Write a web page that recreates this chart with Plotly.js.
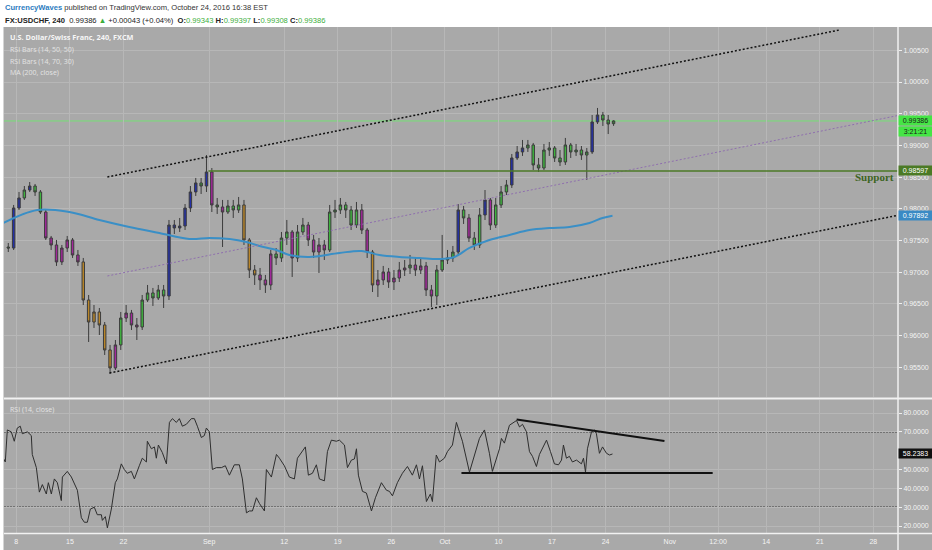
<!DOCTYPE html>
<html>
<head>
<meta charset="utf-8">
<script src="https://cdn.plot.ly/plotly-3.0.1.min.js"></script>
<style>
    body { margin: 0; background: #ffffff; }
    #chart { width: 932px; height: 550px; }
</style>
</head>
<body>
<div id="chart"></div>
<script>
// x = trading day counted from Mon Aug 8 2016 (weekends skipped), 12h bars
let barOpen = [
    0.97398, 0.97382, 0.98013, 0.98171, 0.98297, 0.98360, 0.98266, 0.97950, 0.97540, 0.97430,
    0.97162, 0.97382, 0.97509, 0.97272, 0.97162, 0.96562, 0.96215, 0.96373, 0.96168, 0.95774,
    0.95490, 0.95853, 0.96278, 0.96357, 0.96168, 0.96136, 0.96562, 0.96673, 0.96594, 0.96720,
    0.96625, 0.97745, 0.97698, 0.97729, 0.98013, 0.98266, 0.98408, 0.98360, 0.98581, 0.98061,
    0.98029, 0.97950, 0.98045, 0.97982, 0.98061, 0.97509, 0.97035, 0.96957, 0.96878, 0.96799,
    0.97288, 0.97225, 0.97540, 0.97635, 0.97225, 0.97635, 0.97745, 0.97509, 0.97319, 0.97430,
    0.97351, 0.97950, 0.97982, 0.98061, 0.97982, 0.97745, 0.97982, 0.97666, 0.97319, 0.96799,
    0.96878, 0.97004, 0.96846, 0.96909, 0.97035, 0.97067, 0.97114, 0.97035, 0.97099, 0.96720,
    0.96625, 0.97035, 0.97193, 0.97225, 0.97319, 0.97982, 0.97856, 0.97540, 0.97430, 0.97903,
    0.98140, 0.97745, 0.98061, 0.98266, 0.98376, 0.98802, 0.98897, 0.98960, 0.99007, 0.98692,
    0.98644, 0.98928, 0.98960, 0.98802, 0.98739, 0.99007, 0.98897, 0.98928, 0.98849, 0.98897,
    0.99370, 0.99480, 0.99401, 0.99343
];
let barHigh = [
    0.97461, 0.98061, 0.98266, 0.98360, 0.98423, 0.98392, 0.98297, 0.97982, 0.97572, 0.97509,
    0.97430, 0.97572, 0.97540, 0.97351, 0.97225, 0.96641, 0.96483, 0.96436, 0.96215, 0.95853,
    0.95931, 0.96373, 0.96483, 0.96405, 0.96278, 0.96641, 0.96799, 0.96752, 0.96799, 0.96799,
    0.97824, 0.97824, 0.97856, 0.98076, 0.98360, 0.98487, 0.98487, 0.98849, 0.98644, 0.98171,
    0.98140, 0.98140, 0.98140, 0.98187, 0.98140, 0.97540, 0.97114, 0.97067, 0.96957, 0.97351,
    0.97382, 0.97635, 0.97824, 0.97666, 0.97745, 0.97856, 0.97793, 0.97588, 0.97540, 0.97509,
    0.98061, 0.98140, 0.98171, 0.98108, 0.98045, 0.98108, 0.98076, 0.97698, 0.97351, 0.97035,
    0.97099, 0.97067, 0.97035, 0.97162, 0.97193, 0.97272, 0.97225, 0.97225, 0.97162, 0.96799,
    0.97114, 0.97588, 0.97351, 0.97414, 0.98076, 0.98045, 0.97919, 0.97635, 0.98013, 0.98297,
    0.98171, 0.98171, 0.98360, 0.98455, 0.98865, 0.98991, 0.99086, 0.99086, 0.99039, 0.98802,
    0.99023, 0.99054, 0.98991, 0.98928, 0.99118, 0.99039, 0.99023, 0.98991, 0.98960, 0.99480,
    0.99591, 0.99528, 0.99480, 0.99397
];
let barLow = [
    0.97319, 0.97351, 0.97982, 0.98140, 0.98266, 0.98203, 0.97919, 0.97509, 0.97351, 0.97099,
    0.97114, 0.97319, 0.97225, 0.97099, 0.96483, 0.95900, 0.96121, 0.96010, 0.95695, 0.95395,
    0.95458, 0.95774, 0.96215, 0.96089, 0.95931, 0.96089, 0.96531, 0.96468, 0.96562, 0.96436,
    0.96562, 0.97603, 0.97635, 0.97666, 0.97950, 0.98203, 0.98234, 0.98266, 0.97950, 0.97919,
    0.97398, 0.97919, 0.97856, 0.97935, 0.97430, 0.96909, 0.96799, 0.96720, 0.96673, 0.96720,
    0.97114, 0.97162, 0.97430, 0.96925, 0.97162, 0.97588, 0.97414, 0.97225, 0.96988, 0.97193,
    0.97319, 0.97856, 0.97919, 0.97856, 0.97666, 0.97698, 0.97603, 0.97225, 0.96688, 0.96610,
    0.96799, 0.96752, 0.96720, 0.96846, 0.96941, 0.96972, 0.96941, 0.96972, 0.96625, 0.96452,
    0.96483, 0.97004, 0.97130, 0.97162, 0.97272, 0.97761, 0.97477, 0.97351, 0.97382, 0.97824,
    0.97666, 0.97698, 0.98013, 0.98218, 0.98329, 0.98771, 0.98834, 0.98897, 0.98613, 0.98581,
    0.98613, 0.98834, 0.98739, 0.98676, 0.98692, 0.98802, 0.98834, 0.98771, 0.98455, 0.98865,
    0.99338, 0.99307, 0.99180, 0.99308
];
let barClose = [
    0.97382, 0.98013, 0.98171, 0.98297, 0.98360, 0.98266, 0.97950, 0.97540, 0.97430, 0.97162,
    0.97382, 0.97509, 0.97272, 0.97162, 0.96562, 0.96215, 0.96373, 0.96168, 0.95774, 0.95490,
    0.95853, 0.96278, 0.96357, 0.96168, 0.96136, 0.96562, 0.96673, 0.96594, 0.96720, 0.96625,
    0.97745, 0.97698, 0.97729, 0.98013, 0.98266, 0.98408, 0.98360, 0.98581, 0.98061, 0.98029,
    0.97950, 0.98045, 0.97982, 0.98061, 0.97509, 0.97035, 0.96957, 0.96878, 0.96799, 0.97288,
    0.97225, 0.97540, 0.97635, 0.97225, 0.97635, 0.97745, 0.97509, 0.97319, 0.97430, 0.97351,
    0.97950, 0.97982, 0.98061, 0.97982, 0.97745, 0.97982, 0.97666, 0.97319, 0.96799, 0.96878,
    0.97004, 0.96846, 0.96909, 0.97035, 0.97067, 0.97114, 0.97035, 0.97099, 0.96720, 0.96625,
    0.97035, 0.97193, 0.97225, 0.97319, 0.97982, 0.97856, 0.97540, 0.97430, 0.97903, 0.98140,
    0.97745, 0.98061, 0.98266, 0.98376, 0.98802, 0.98897, 0.98960, 0.99007, 0.98692, 0.98644,
    0.98928, 0.98960, 0.98802, 0.98739, 0.99007, 0.98897, 0.98928, 0.98849, 0.98897, 0.99370,
    0.99480, 0.99401, 0.99338, 0.99386
];
// RSI Bars colouring: B strong, G above 50, P below 50, O weak
let barClass = [
    'G', 'B', 'B', 'G', 'B', 'G', 'G', 'P', 'P', 'P',
    'P', 'P', 'P', 'P', 'O', 'O', 'O', 'O', 'O', 'O',
    'P', 'G', 'P', 'P', 'P', 'G', 'G', 'G', 'G', 'G',
    'B', 'B', 'B', 'B', 'B', 'B', 'G', 'B', 'P', 'G',
    'P', 'G', 'G', 'G', 'O', 'O', 'O', 'P', 'P', 'P',
    'G', 'G', 'G', 'P', 'G', 'G', 'P', 'P', 'P', 'P',
    'G', 'G', 'G', 'G', 'G', 'G', 'P', 'P', 'O', 'P',
    'P', 'P', 'P', 'P', 'P', 'G', 'P', 'P', 'P', 'P',
    'G', 'G', 'G', 'G', 'B', 'G', 'P', 'G', 'G', 'B',
    'P', 'G', 'G', 'G', 'B', 'B', 'B', 'G', 'G', 'G',
    'G', 'G', 'G', 'G', 'G', 'G', 'G', 'G', 'G', 'B',
    'B', 'G', 'G', 'G'
];

let maDay = [-1.21, 1.96, 4.95, 7.75, 10.55, 13.35, 16.15, 18.02, 19.89, 21.48,
    22.69, 24.28, 25.49, 27.36, 30.16, 32.21, 33.89, 35.76, 37.63, 39.50,
    40.90, 42.30, 44.16, 46.03, 47.90, 49.77, 51.63, 53.50, 54.72, 55.65];
let maVal = [0.97777, 0.97982, 0.97950, 0.97824, 0.97714, 0.97619, 0.97524, 0.97540, 0.97524, 0.97477,
    0.97414, 0.97351, 0.97272, 0.97241, 0.97304, 0.97335, 0.97272, 0.97241, 0.97225, 0.97209,
    0.97241, 0.97383, 0.97509, 0.97588, 0.97666, 0.97698, 0.97714, 0.97777, 0.97856, 0.97892];

let rsiDay = [
    -1.21, -1.03, -0.84, -0.47, -0.19, 0.09, 0.37, 0.56, 1.03, 1.40,
    1.49, 1.87, 2.15, 2.43, 2.80, 2.99, 3.27, 3.55, 3.83, 4.20,
    4.30, 4.76, 5.14, 5.42, 5.70, 6.07, 6.35, 6.63, 6.91, 7.28,
    7.56, 7.94, 8.03, 8.31, 8.50, 8.87, 9.24, 9.43, 9.80, 10.08,
    10.36, 10.74, 11.02, 11.48, 11.76, 12.14, 12.23, 12.61, 12.89, 13.07,
    13.26, 13.63, 14.01, 14.29, 14.57, 14.94, 15.22, 15.50, 15.87, 16.34,
    16.62, 16.90, 17.27, 17.55, 17.74, 18.02, 18.30, 18.67, 19.14, 19.51,
    19.89, 20.35, 20.82, 21.10, 21.48, 21.76, 22.04, 22.41, 22.69, 23.16,
    23.34, 23.81, 24.28, 24.56, 25.02, 25.49, 25.96, 26.24, 26.70, 26.98,
    27.26, 27.64, 28.01, 28.29, 28.76, 29.04, 29.41, 29.88, 30.16, 30.63,
    30.91, 31.28, 31.56, 31.75, 31.93, 32.31, 32.68, 33.15, 33.52, 34.08,
    34.55, 34.83, 35.11, 35.57, 36.04, 36.51, 36.97, 37.35, 37.63, 37.91,
    38.28, 38.65, 38.84, 39.20, 39.50, 39.96, 40.24, 40.71, 41.08, 41.36,
    41.64, 42.30, 42.58, 43.23, 43.70, 44.16, 44.44, 45.10, 45.28, 45.56,
    46.03, 46.69, 46.97, 47.25, 47.62, 47.90, 48.18, 48.55, 48.83, 49.49,
    49.86, 50.23, 50.61, 50.89, 51.07, 51.35, 51.63, 51.91, 52.29, 52.75,
    52.94, 53.13, 53.31, 53.69, 53.97, 54.15, 54.43, 54.72, 55.09, 55.37,
    55.65
];
let rsiVal = [
    56, 54, 71, 70, 65, 72, 73, 69, 70, 68,
    58, 51, 38, 42, 37, 43, 37, 45, 43, 33.5,
    46, 49, 46, 42, 39, 24.4, 22, 22, 29, 30,
    26, 26, 23, 25, 19, 29, 43, 45, 53, 50,
    48, 49, 45, 52, 56, 54, 65, 61, 62, 56,
    63, 59, 53, 75, 77, 75, 77, 73, 74, 77,
    77, 73, 67, 68, 72, 70, 50, 51, 51, 52,
    47, 52.5, 52.5, 45, 27, 28, 28, 35, 32, 28,
    50, 46, 58, 56, 52, 46, 45, 56, 60, 62,
    47, 48, 52.5, 45, 44, 59.5, 65.6, 65, 65.6, 63,
    51, 55, 55.6, 61, 47, 38.4, 37.5, 28, 35, 43,
    39, 38.4, 36, 43, 48, 51.6, 47, 52.5, 45, 52,
    33, 37, 33, 57.7, 54, 56, 59.5, 63, 75, 70,
    65, 48.6, 54, 66.5, 71, 58.6, 49, 61, 66.5, 64,
    73.5, 76, 72.6, 74, 70, 59.5, 57, 51.6, 58, 65.6,
    59.5, 53, 52.5, 55, 63, 56, 57, 54, 55, 53,
    56, 48.6, 61, 70, 71, 69, 58.6, 62, 58.6, 57.7,
    58.24
];

// drawn channel and trend lines (end points)
let chanTopDay = [8.5, 76.84], chanTopVal = [0.98502, 1.00821];
let chanLowDay = [8.7, 82.26], chanLowVal = [0.95411, 0.97897];
let chanMidDay = [8.5, 82.26], chanMidVal = [0.96941, 0.99471];
let supportDay = [17.93, 82.3], supportVal = [0.98597, 0.98597];
let rsiTopDay = [46.7, 60.5], rsiTopVal = [76.5, 65.1];
let rsiLowDay = [41.55, 65.0], rsiLowVal = [48.1, 48.1];

let lastPrice = 0.99386, maLast = 0.97892, rsiLast = 58.2383;

let xTickDay = [0, 5, 10, 18, 25, 30, 35, 40, 45, 50, 55, 61, 65.5, 70, 75, 80];
let xTickText = ['8', '15', '22', 'Sep', '12', '19', '26', 'Oct', '10', '17', '24', 'Nov', '12:00', '14', '21', '28'];
let rsiTicks = [20, 30, 40, 50, 70, 80];

let W = 932, H = 550;
function fx(px) { return px / W; }
function fy(py) { return 1 - py / H; }

let barDay = barClose.map((c, i) => -0.75 + i * 0.5);

let classColours = {G: '#3fb33f', B: '#2430a6', P: '#a3289c', O: '#b9862a'};
let data = [];

Object.keys(classColours).forEach(k => {
    let idx = [];
    barClass.forEach((c, i) => { if (c === k) idx.push(i); });
    let col = classColours[k];
    data.push({
        type: 'candlestick',
        xaxis: 'x', yaxis: 'y',
        x: idx.map(i => barDay[i]),
        open: idx.map(i => barOpen[i]),
        high: idx.map(i => barHigh[i]),
        low: idx.map(i => barLow[i]),
        close: idx.map(i => barClose[i]),
        increasing: {line: {color: '#3c3c3c', width: 1}, fillcolor: col},
        decreasing: {line: {color: '#3c3c3c', width: 1}, fillcolor: col},
        whiskerwidth: 0,
        hoverinfo: 'skip',
        showlegend: false
    });
});

data.push({
    type: 'scatter', mode: 'lines', xaxis: 'x', yaxis: 'y',
    x: maDay, y: maVal,
    line: {color: '#3a8fc6', width: 2, shape: 'spline'},
    hoverinfo: 'skip'
});

function dotted(xs, ys, colour, w) {
    return {
        type: 'scatter', mode: 'lines', xaxis: 'x', yaxis: 'y',
        x: xs, y: ys,
        line: {color: colour, width: w, dash: '2px,2px'},
        hoverinfo: 'skip'
    };
}
data.push(dotted(chanTopDay, chanTopVal, '#111111', 1.5));
data.push(dotted(chanLowDay, chanLowVal, '#111111', 1.5));
data.push(dotted(chanMidDay, chanMidVal, '#8f6fae', 1));

data.push({
    type: 'scatter', mode: 'lines', xaxis: 'x', yaxis: 'y',
    x: supportDay, y: supportVal,
    line: {color: '#4c7a27', width: 1.6},
    hoverinfo: 'skip'
});

data.push({
    type: 'scatter', mode: 'lines', xaxis: 'x', yaxis: 'y2',
    x: rsiDay, y: rsiVal,
    line: {color: '#2e2e2e', width: 1},
    hoverinfo: 'skip'
});
data.push({
    type: 'scatter', mode: 'lines', xaxis: 'x', yaxis: 'y2',
    x: rsiTopDay, y: rsiTopVal,
    line: {color: '#111111', width: 2},
    hoverinfo: 'skip'
});
data.push({
    type: 'scatter', mode: 'lines', xaxis: 'x', yaxis: 'y2',
    x: rsiLowDay, y: rsiLowVal,
    line: {color: '#111111', width: 2},
    hoverinfo: 'skip'
});

let tickFont = {family: 'Liberation Sans, Arial, sans-serif', size: 7, color: '#f4f4f4'};
let grid = '#b7b7b7';

let green = '#3cae3c';
let header2 = '<b>FX:USDCHF, 240</b>  0.99386 <span style="color:' + green + '">▲</span> +0.00043 (+0.04%)  ' +
    '<b>O:</b><span style="color:' + green + '">0.99343</span> ' +
    '<b>H:</b><span style="color:' + green + '">0.99397</span> ' +
    '<b>L:</b><span style="color:' + green + '">0.99308</span> ' +
    '<b>C:</b><span style="color:' + green + '">0.99386</span>';

function paneText(txt, py, bold) {
    return {
        xref: 'paper', yref: 'paper', x: fx(8), y: fy(py),
        xanchor: 'left', yanchor: 'middle', showarrow: false,
        text: bold ? '<b>' + txt + '</b>' : txt,
        font: {family: 'Open Sans, sans-serif', size: bold ? 7.3 : 7, color: bold ? '#f6f6f6' : '#e4e4e4'}
    };
}

function priceBox(txt, yref, y, bg, fg, shift) {
    return {
        xref: 'paper', yref: yref, x: fx(898), y: y,
        xanchor: 'left', yanchor: 'middle', yshift: shift || 0,
        showarrow: false, text: txt, width: 31, align: 'center',
        bgcolor: bg, borderpad: 1,
        font: {family: 'Liberation Sans, Arial, sans-serif', size: 7, color: fg}
    };
}

let layout = {
    width: W, height: H,
    margin: {l: 0, r: 0, t: 0, b: 0},
    paper_bgcolor: '#a9a9a9',
    plot_bgcolor: 'rgba(0,0,0,0)',
    showlegend: false,
    boxgap: 0.35,
    xaxis: {
        domain: [fx(4), fx(898)],
        range: [-1.15, 82.3],
        anchor: 'y2',
        tickmode: 'array', tickvals: xTickDay, ticktext: xTickText,
        showgrid: true, gridcolor: grid, gridwidth: 1,
        zeroline: false, showline: false, ticks: '',
        ticklabelstandoff: 3,
        tickfont: tickFont,
        rangeslider: {visible: false},
        fixedrange: true
    },
    yaxis: {
        domain: [fy(397), fy(27)],
        range: [0.95032, 1.00868],
        side: 'right', anchor: 'x',
        tick0: 0.955, dtick: 0.005, tickformat: '.5f',
        showgrid: true, gridcolor: grid, zeroline: false, showline: false,
        ticks: 'outside', ticklen: 3, tickcolor: '#eeeeee',
        tickfont: tickFont, fixedrange: true
    },
    yaxis2: {
        domain: [fy(533), fy(400)],
        range: [16.3, 86.9],
        side: 'right', anchor: 'x',
        tickmode: 'array', tickvals: rsiTicks, tickformat: '.4f',
        showgrid: true, gridcolor: grid, zeroline: false, showline: false,
        ticks: 'outside', ticklen: 3, tickcolor: '#eeeeee',
        tickfont: tickFont, fixedrange: true
    },
    shapes: [
        {type: 'rect', xref: 'paper', yref: 'paper', x0: 0, x1: 1, y0: fy(27), y1: 1,
            fillcolor: '#ffffff', line: {width: 0}, layer: 'below'},
        {type: 'rect', xref: 'paper', yref: 'paper', x0: 0, x1: fx(3.5), y0: 0, y1: 1,
            fillcolor: '#ffffff', line: {width: 0}, layer: 'below'},
        {type: 'line', xref: 'paper', yref: 'y', x0: fx(4), x1: fx(898), y0: lastPrice, y1: lastPrice,
            line: {color: '#74e074', width: 1}, layer: 'below'},
        {type: 'line', xref: 'paper', yref: 'y2', x0: fx(4), x1: fx(898), y0: 70, y1: 70,
            line: {color: '#3e3e3e', width: 1.5, dash: '2px,1px'}, layer: 'below'},
        {type: 'line', xref: 'paper', yref: 'y2', x0: fx(4), x1: fx(898), y0: 30, y1: 30,
            line: {color: '#3e3e3e', width: 1.5, dash: '2px,1px'}, layer: 'below'},
        {type: 'line', xref: 'paper', yref: 'paper', x0: fx(898), x1: fx(898), y0: 0, y1: fy(27),
            line: {color: '#f2f2f2', width: 1.5}},
        {type: 'line', xref: 'paper', yref: 'paper', x0: fx(4), x1: 1, y0: fy(398.5), y1: fy(398.5),
            line: {color: '#f2f2f2', width: 2}},
        {type: 'line', xref: 'paper', yref: 'paper', x0: fx(4), x1: 1, y0: fy(533.5), y1: fy(533.5),
            line: {color: '#f2f2f2', width: 1.5}}
    ],
    annotations: [
        {xref: 'paper', yref: 'paper', x: fx(3), y: fy(8), xanchor: 'left', yanchor: 'middle',
            showarrow: false,
            text: '<span style="color:#2c7cc0"><b>CurrencyWaves</b></span> published on TradingView.com, October 24, 2016 16:38 EST',
            font: {family: 'Liberation Sans, Arial, sans-serif', size: 7.6, color: '#333333'}},
        {xref: 'paper', yref: 'paper', x: fx(3), y: fy(20), xanchor: 'left', yanchor: 'middle',
            showarrow: false, text: header2,
            font: {family: 'Liberation Sans, Arial, sans-serif', size: 7.6, color: '#222222'}},
        paneText('U.S. Dollar/Swiss Franc, 240, FXCM', 37, true),
        paneText('RSI Bars (14, 50, 50)', 49, false),
        paneText('RSI Bars (14, 70, 30)', 61, false),
        paneText('MA (200, close)', 73, false),
        paneText('RSI (14, close)', 409, false),
        {xref: 'paper', yref: 'y', x: fx(896), y: 0.98597, xanchor: 'right', yanchor: 'middle',
            yshift: -6, showarrow: false, text: '<b>Support</b>',
            font: {family: 'Liberation Serif, DejaVu Serif, serif', size: 11, color: '#3d6422'}},
        priceBox(lastPrice.toFixed(5), 'y', lastPrice, '#45e545', '#1a1a1a', 0),
        priceBox('3:21:21', 'y', lastPrice, '#45e545', '#1a1a1a', -11),
        priceBox('0.98597', 'y', 0.98597, '#4b7a25', '#ffffff', 0),
        priceBox(maLast.toFixed(5), 'y', maLast, '#3a8ac4', '#ffffff', 0),
        priceBox(rsiLast.toFixed(4), 'y2', rsiLast, '#111111', '#ffffff', 0)
    ]
};

Plotly.newPlot('chart', data, layout, {displayModeBar: false, staticPlot: true});
</script>
</body>
</html>
